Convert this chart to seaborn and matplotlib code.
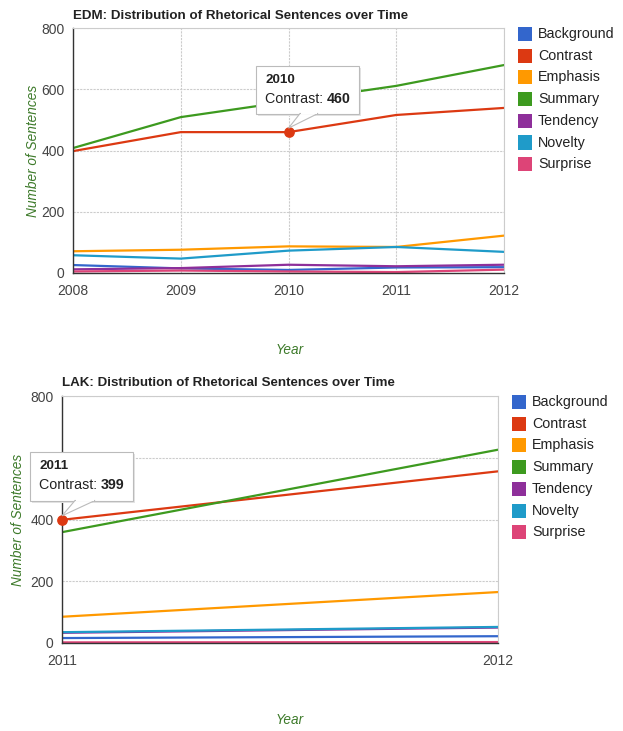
import matplotlib
matplotlib.use("Agg")
import matplotlib.pyplot as plt
import seaborn as sns
import pandas as pd
from matplotlib.patches import Polygon, Rectangle

sns.set_style("white")
plt.rcParams['font.family'] = ['Liberation Sans', 'DejaVu Sans']

categories = ["Background", "Contrast", "Emphasis", "Summary", "Tendency", "Novelty", "Surprise"]
colors = ["#3366cc", "#dc3912", "#ff9900", "#3d9a1f", "#8e2f9a", "#1f9bc9", "#dd4477"]

edm_years = [2008, 2009, 2010, 2011, 2012]
edm_background = [26, 15, 10, 18, 19]
edm_contrast = [398, 460, 460, 516, 539]
edm_emphasis = [71, 76, 87, 85, 122]
edm_summary = [408, 509, 560, 611, 679]
edm_tendency = [12, 16, 27, 22, 27]
edm_novelty = [58, 47, 73, 85, 69]
edm_surprise = [5, 8, 5, 3, 11]

lak_years = [2011, 2012]
lak_background = [16, 22]
lak_contrast = [399, 556]
lak_emphasis = [85, 165]
lak_summary = [359, 626]
lak_tendency = [33, 50]
lak_novelty = [35, 52]
lak_surprise = [2, 3]

def long_df(years, series):
    rows = []
    for cat, vals in zip(categories, series):
        for y, v in zip(years, vals):
            rows.append({"Year": y, "Category": cat, "Value": v})
    return pd.DataFrame(rows)

edm_df = long_df(edm_years, [edm_background, edm_contrast, edm_emphasis, edm_summary,
                             edm_tendency, edm_novelty, edm_surprise])
lak_df = long_df(lak_years, [lak_background, lak_contrast, lak_emphasis, lak_summary,
                             lak_tendency, lak_novelty, lak_surprise])

W, H = 623, 731
fig = plt.figure(figsize=(W / 100, H / 100), dpi=100)
fig.patch.set_facecolor("white")

def rect(l, t, r, b):
    return [l / W, 1 - b / H, (r - l) / W, (b - t) / H]

def fx(x):
    return x / W

def fy(y):
    return 1 - y / H

green = "#3d7a2a"
tick_col = "#444444"

def style_axes(ax, years, title, title_x, title_y, ylab_x, xlab_y, legend_top, leg_x):
    ax.set_ylim(0, 800)
    ax.set_xlim(years[0], years[-1])
    ax.set_xticks(years)
    ax.set_xticklabels([str(y) for y in years])
    ax.set_yticks([0, 200, 400, 600, 800])
    ax.grid(True, color="#cccccc", linestyle=(0, (2, 1)), linewidth=0.8)
    for s in ["top", "right"]:
        ax.spines[s].set_color("#cccccc")
        ax.spines[s].set_linewidth(0.8)
    for s in ["left", "bottom"]:
        ax.spines[s].set_color("#333333")
        ax.spines[s].set_linewidth(1.0)
    ax.tick_params(axis="both", length=0, labelsize=10, labelcolor=tick_col)
    ax.tick_params(axis="x", pad=8)
    ax.tick_params(axis="y", pad=6)
    ax.set_xlabel("")
    ax.set_ylabel("")
    if ax.get_legend():
        ax.get_legend().remove()
    fig.text(fx(title_x), fy(title_y), title, fontsize=9.6, fontweight="bold",
             color="#222222", va="center", ha="left")
    pos = ax.get_position()
    fig.text(fx(ylab_x), (pos.y0 + pos.y1) / 2, "Number of Sentences", rotation=90,
             fontsize=9.8, style="italic", color=green, va="center", ha="center")
    fig.text(fx(290), fy(xlab_y), "Year", fontsize=9.8, style="italic",
             color=green, va="center", ha="center")
    for i, (cat, c) in enumerate(zip(categories, colors)):
        yc = legend_top + i * 21.7
        fig.patches.append(Rectangle((fx(leg_x), fy(yc + 7)), 14 / W, 14 / H,
                                     transform=fig.transFigure, facecolor=c,
                                     edgecolor="none", figure=fig))
        fig.text(fx(leg_x + 20), fy(yc), cat, fontsize=10.3, color="#222222",
                 va="center", ha="left")

def tooltip(ax, year, value, l, t, r, b, tail_x1, tail_x2, label_year):
    # shadow
    fig.patches.append(Rectangle((fx(l + 2), fy(b + 2)), (r - l) / W, (b - t) / H,
                                 transform=fig.transFigure, facecolor="#e4e4e4",
                                 edgecolor="none", figure=fig, zorder=9))
    fig.patches.append(Rectangle((fx(l), fy(b)), (r - l) / W, (b - t) / H,
                                 transform=fig.transFigure, facecolor="white",
                                 edgecolor="#bbbbbb", linewidth=0.8, figure=fig, zorder=10))
    px, py = ax.transData.transform((year, value))
    tip = (px / fig.bbox.width, py / fig.bbox.height + 4 / H)
    tail = Polygon([(fx(tail_x1), fy(b - 0.5)), (fx(tail_x2), fy(b - 0.5)), tip],
                   closed=True, transform=fig.transFigure, facecolor="white",
                   edgecolor="#bbbbbb", linewidth=0.8, figure=fig, zorder=11)
    fig.patches.append(tail)
    fig.patches.append(Rectangle((fx(min(tail_x1, tail_x2) + 1), fy(b + 0.3)),
                                 (abs(tail_x2 - tail_x1) - 2) / W, 2 / H,
                                 transform=fig.transFigure, facecolor="white",
                                 edgecolor="none", figure=fig, zorder=12))
    fig.text(fx(l + 9), fy(t + 14), str(label_year), fontsize=9.6,
             fontweight="bold", color="#222222", va="center", ha="left", zorder=13)
    t1 = fig.text(fx(l + 9), fy(t + 33), "Contrast: ", fontsize=10.3,
                  color="#222222", va="center", ha="left", zorder=13)
    fig.canvas.draw()
    bb = t1.get_window_extent()
    fig.text(bb.x1 / fig.bbox.width, fy(t + 33), str(value), fontsize=10.3,
             fontweight="bold", color="#222222", va="center", ha="left", zorder=13)
    ax.scatter([year], [value], s=45, color="#dc3912", zorder=20, clip_on=False,
               edgecolors="#dc3912")

# EDM chart
ax1 = fig.add_axes(rect(73, 28, 504, 273))
sns.lineplot(data=edm_df, x="Year", y="Value", hue="Category", hue_order=categories,
             palette=colors, linewidth=1.6, ax=ax1, legend=True)
style_axes(ax1, edm_years, "EDM: Distribution of Rhetorical Sentences over Time",
           73, 16, 33, 350, 34, 518)

# LAK chart
ax2 = fig.add_axes(rect(62, 396, 498, 643))
sns.lineplot(data=lak_df, x="Year", y="Value", hue="Category", hue_order=categories,
             palette=colors, linewidth=1.6, ax=ax2, legend=True)
style_axes(ax2, lak_years, "LAK: Distribution of Rhetorical Sentences over Time",
           62, 383, 18, 720, 402, 512)

tooltip(ax1, 2010, 460, 256, 66, 359, 114, 300, 318, 2010)
tooltip(ax2, 2011, 399, 30, 452, 133, 501, 75, 95, 2011)

fig.savefig("out.png", dpi=100, facecolor="white")
